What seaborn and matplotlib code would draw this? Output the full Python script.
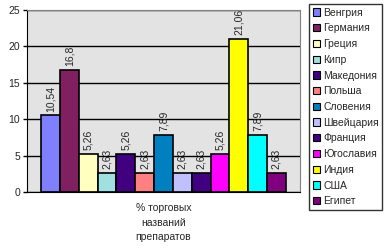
import pandas as pd
import matplotlib
matplotlib.use("Agg")
import matplotlib.pyplot as plt
import seaborn as sns

# data
countries = ['Венгрия', 'Германия', 'Греция', 'Кипр', 'Македония', 'Польша', 'Словения',
             'Швейцария', 'Франция', 'Югославия', 'Индия', 'США', 'Египет']
values = [10.54, 16.8, 5.26, 2.63, 5.26, 2.63, 7.89, 2.63, 2.63, 5.26, 21.06, 7.89, 2.63]
labels = ['10,54', '16,8', '5,26', '2,63', '5,26', '2,63', '7,89', '2,63', '2,63', '5,26', '21,06', '7,89', '2,63']
colors = ['#8080FF', '#802060', '#FFFFC0', '#A0E0E0', '#400080', '#FF8080', '#0080C0',
          '#C0C0FF', '#400080', '#FF00FF', '#FFFF00', '#00FFFF', '#800080']
category = '% торговых\nназваний\nпрепаратов'

df = pd.DataFrame({'cat': [category] * len(countries), 'country': countries, 'value': values})

sns.set_style('white')
plt.rcParams['font.family'] = ['Liberation Sans', 'DejaVu Sans']
plt.rcParams['font.size'] = 7.5

fig = plt.figure(figsize=(3.87, 2.49), dpi=100)
ax = fig.add_axes([27 / 387, 57 / 249, 273 / 387, 182 / 249])
ax.set_facecolor('#E3E3E3')

sns.barplot(data=df, x='cat', y='value', hue='country', palette=colors, width=0.896,
            edgecolor='black', linewidth=1.2, saturation=1, ax=ax, legend=False)

for bar, lab in zip(ax.patches, labels):
    ax.text(bar.get_x() + bar.get_width() / 2, bar.get_height() + 0.5, lab,
            rotation=90, ha='center', va='bottom', fontsize=7.5)

ax.set_ylim(0, 25)
ax.set_xlim(-0.5, 0.5)
ax.set_yticks(range(0, 26, 5))
ax.yaxis.grid(True, color='black', linewidth=1)
ax.set_axisbelow(True)
ax.set_xlabel('')
ax.set_ylabel('')
ax.tick_params(axis='y', length=3, width=1, color='black', direction='out', pad=2, left=True)
ax.tick_params(axis='x', length=0, pad=8)
for t in ax.get_xticklabels():
    t.set_linespacing(1.55)
for s in ['top', 'right']:
    ax.spines[s].set_color('#808080')
for s in ['left', 'bottom']:
    ax.spines[s].set_color('black')

handles = [plt.Rectangle((0, 0), 1, 1, facecolor=c, edgecolor='black', linewidth=0.8) for c in colors]
leg = fig.legend(handles, countries, loc='upper left', bbox_to_anchor=(309 / 387, 1 - 4 / 249),
                 frameon=True, fancybox=False, edgecolor='black', fontsize=7.5,
                 handlelength=0.7, handleheight=0.7, handletextpad=0.3, labelspacing=0.55,
                 borderpad=0.35, borderaxespad=0)
leg.get_frame().set_linewidth(1)

fig.savefig('out.png', dpi=100)
